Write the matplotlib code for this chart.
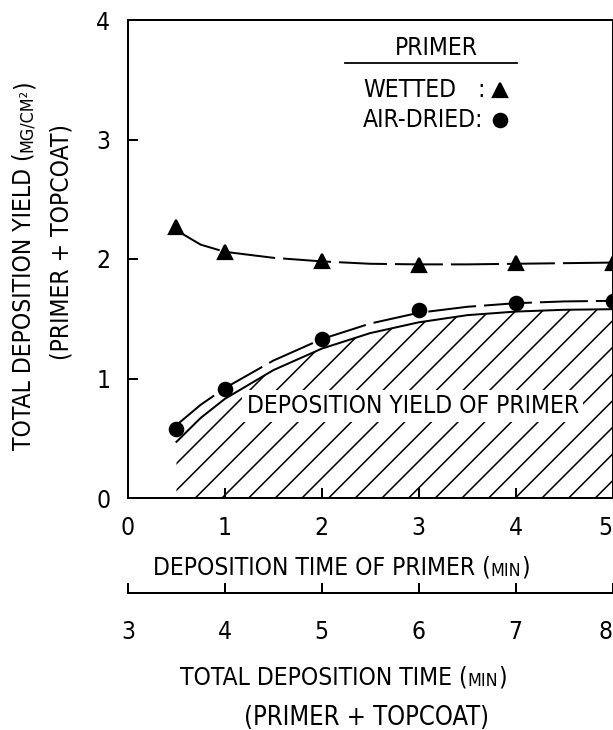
import matplotlib
matplotlib.use("Agg")
import matplotlib.pyplot as plt

# measured points (deposition time of primer, min)
time_primer = [0.5, 1, 2, 3, 4, 5]
wetted = [2.27, 2.06, 1.98, 1.95, 1.97, 1.97]
air_dried = [0.58, 0.91, 1.33, 1.57, 1.63, 1.65]

# hand-drawn curves
curve_x = [0.5, 0.75, 1, 1.5, 2, 2.5, 3, 3.5, 4, 4.5, 5]
wetted_curve = [2.24, 2.12, 2.06, 2.01, 1.98, 1.96, 1.955, 1.955, 1.96, 1.965, 1.97]
air_dried_curve = [0.61, 0.78, 0.92, 1.15, 1.33, 1.46, 1.55, 1.60, 1.63, 1.645, 1.65]
primer_yield = [0.47, 0.67, 0.83, 1.07, 1.25, 1.38, 1.47, 1.53, 1.56, 1.575, 1.58]

primer_ticks = [0, 1, 2, 3, 4, 5]
total_ticks = [3, 4, 5, 6, 7, 8]
yield_ticks = [0, 1, 2, 3, 4]

plt.rcParams["font.family"] = ["DejaVu Sans"]
plt.rcParams["font.stretch"] = "condensed"
plt.rcParams["hatch.linewidth"] = 0.7

DPI = 160
W, H = 613, 730
fig = plt.figure(figsize=(W / DPI, H / DPI), dpi=DPI)

left, right, top, bottom = 128, 612.5, 20, 498
ax = fig.add_axes([left / W, 1 - bottom / H, (right - left) / W, (bottom - top) / H])
ax.set_xlim(0, 5)
ax.set_ylim(0, 4)
for s in ax.spines.values():
    s.set_linewidth(0.9)

ax.set_xticks(primer_ticks)
ax.set_yticks(yield_ticks)
ax.tick_params(direction="in", length=4.5, width=0.9, labelsize=11)
ax.tick_params(axis="x", pad=8)
ax.tick_params(axis="y", pad=8)
ax.get_xticklabels()[-1].set_ha("right")

# hatched primer yield
ax.fill_between(curve_x, 0, primer_yield, facecolor="none", edgecolor="black",
                hatch="//", linewidth=0)
ax.plot(curve_x, primer_yield, color="black", lw=0.9)

ax.plot(curve_x, wetted_curve, color="black", lw=0.9, dashes=(24, 4))
ax.plot(curve_x, air_dried_curve, color="black", lw=0.9, dashes=(24, 4))
ax.plot(time_primer, wetted, "^", color="black", ms=6, clip_on=False)
ax.plot(time_primer, air_dried, "o", color="black", ms=6, clip_on=False)

ax.text(2.94, 0.77, "DEPOSITION YIELD OF PRIMER", ha="center", va="center",
        fontsize=11, bbox=dict(facecolor="white", edgecolor="none", pad=2))

# legend drawn by hand
ax.text(0.636, 0.941, "PRIMER", transform=ax.transAxes, ha="center", va="center", fontsize=11)
ax.plot([0.448, 0.803], [0.910, 0.910], transform=ax.transAxes, color="black", lw=0.8)
ax.text(0.485, 0.853, "WETTED", transform=ax.transAxes, va="center", fontsize=11)
ax.text(0.722, 0.853, ":", transform=ax.transAxes, va="center", fontsize=11)
ax.text(0.485, 0.791, "AIR-DRIED:", transform=ax.transAxes, va="center", fontsize=11)
ax.plot([0.768], [0.853], "^", color="black", ms=6, transform=ax.transAxes)
ax.plot([0.768], [0.791], "o", color="black", ms=6, transform=ax.transAxes)

# second time axis (primer + topcoat)
ax2 = fig.add_axes([left / W, 1 - 593 / H, (right - left) / W, 0.0001])
ax2.set_xlim(3, 8)
ax2.set_yticks([])
for k in ["top", "left", "right"]:
    ax2.spines[k].set_visible(False)
ax2.spines["bottom"].set_linewidth(0.9)
ax2.set_xticks(total_ticks)
ax2.tick_params(direction="in", length=4.5, width=0.9, labelsize=11, pad=12)
ax2.get_xticklabels()[-1].set_ha("right")


def chain_h(parts, x, y):
    last = fig.text(x, y, parts[0][0], fontsize=parts[0][1], ha="left", va="bottom")
    for txt, size in parts[1:]:
        last = ax.annotate(txt, xy=(1, 0), xycoords=last, fontsize=size,
                           ha="left", va="bottom", annotation_clip=False)


def chain_v(parts, x, y):
    last = fig.text(x, y, parts[0][0], fontsize=parts[0][1], rotation=90,
                    ha="center", va="bottom")
    for txt, size in parts[1:]:
        last = ax.annotate(txt, xy=(1, 1), xycoords=last, fontsize=size,
                           rotation=90, ha="right", va="bottom",
                           annotation_clip=False)


chain_h([("DEPOSITION TIME OF PRIMER (", 11), ("MIN", 8), (")", 11)],
        153 / W, 1 - 580 / H)
chain_h([("TOTAL DEPOSITION TIME (", 11), ("MIN", 8), (")", 11)],
        180 / W, 1 - 690 / H)
fig.text(367 / W, 1 - 718 / H, "(PRIMER + TOPCOAT)", ha="center", va="center", fontsize=11.5)

chain_v([("TOTAL DEPOSITION YIELD (", 11), ("MG/CM²", 8), (")", 11)],
        24 / W, 1 - 450 / H)
fig.text(61 / W, 1 - 242 / H, "(PRIMER + TOPCOAT)", rotation=90, ha="center",
         va="center", fontsize=11)

fig.savefig("out.png", dpi=DPI)
